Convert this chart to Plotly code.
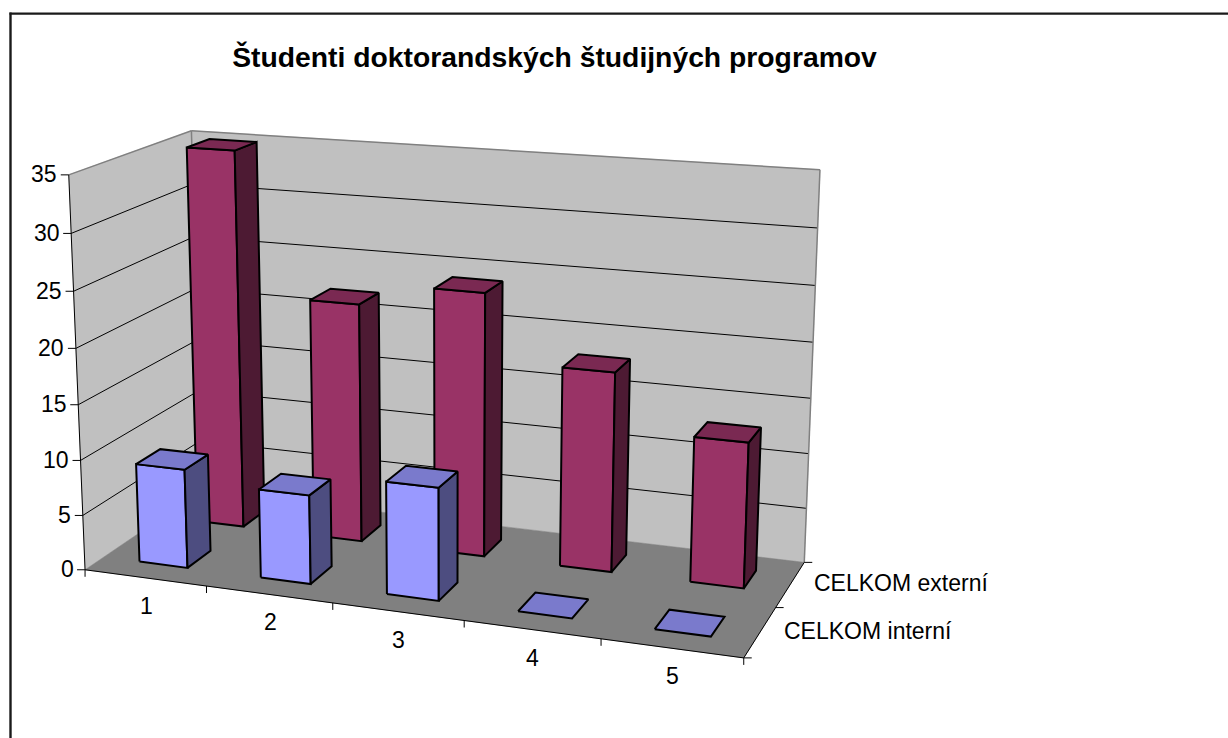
import numpy as np
import plotly.graph_objects as go

# ---------- data ----------
categories = ["1", "2", "3", "4", "5"]
series_names = ["CELKOM interní", "CELKOM externí"]
interni = [9, 8, 10, 0, 0]
externi = [35, 22, 24, 18, 13]
z_ticks = [0, 5, 10, 15, 20, 25, 30, 35]
title_text = "Študenti doktorandských študijných programov"

# ---------- oblique 3-D view: (category, series, value) -> screen position ----------
# Plotly's 3-D scene has a fixed field of view that cannot reach this long-lens view,
# so the view is solved from the box's landmarks and drawn on ordinary axes.
Z_MAX = 35
landmarks = np.array([
    [0, 0, 0, 85, 570], [0, 0, 35, 69, 173], [0, 2, 35, 191, 132], [5, 2, 35, 820, 170],
    [5, 2, 0, 804, 563], [5, 0, 0, 742, 657], [0, 2, 0, 201, 489], [5, 1, 0, 778, 607],
    [1, 0, 0, 207, 587], [2, 0, 0, 333, 603], [3, 0, 0, 463, 621],
    [0, 0, 5, 83, 516], [0, 0, 10, 81, 461]], float)

def solve_view(L):
    A = []
    for X, Y, Z, u, v in L:
        A.append([X, Y, Z, 1, 0, 0, 0, 0, -u*X, -u*Y, -u*Z, -u])
        A.append([0, 0, 0, 0, X, Y, Z, 1, -v*X, -v*Y, -v*Z, -v])
    return np.linalg.svd(np.array(A))[2][-1].reshape(3, 4)

VIEW = solve_view(landmarks)

def pr(x, y, z):
    h = VIEW @ np.array([x, y, z, 1.0])
    return h[0]/h[2], h[1]/h[2]

fig = go.Figure()

def poly(corners, fill, line=None, width=0):
    P = [pr(*c) for c in corners]
    xs = [p[0] for p in P] + [P[0][0]]
    ys = [p[1] for p in P] + [P[0][1]]
    fig.add_trace(go.Scatter(x=xs, y=ys, mode="lines", fill="toself", fillcolor=fill,
                             line=dict(color=line or fill, width=width or 0.5),
                             hoverinfo="skip"))

def seg(a, b, color, width, dpx=(0, 0)):
    pa, pb = pr(*a), pr(*b)
    fig.add_trace(go.Scatter(x=[pa[0], pb[0] + dpx[0]], y=[pa[1], pb[1] + dpx[1]], mode="lines",
                             line=dict(color=color, width=width), hoverinfo="skip"))

nx = len(categories)
# walls and floor
poly([(0, 0, 0), (0, 2, 0), (0, 2, Z_MAX), (0, 0, Z_MAX)], "#C0C0C0")
poly([(0, 2, 0), (nx, 2, 0), (nx, 2, Z_MAX), (0, 2, Z_MAX)], "#C0C0C0")
poly([(0, 0, 0), (nx, 0, 0), (nx, 2, 0), (0, 2, 0)], "#808080")
# gridlines
for t in z_ticks[1:-1]:
    seg((0, 0, t), (0, 2, t), "black", 1)
    seg((0, 2, t), (nx, 2, t), "black", 1)
# wall edges
seg((0, 0, Z_MAX), (0, 2, Z_MAX), "#808080", 1.5)
seg((0, 2, Z_MAX), (nx, 2, Z_MAX), "#808080", 1.5)
seg((nx, 2, Z_MAX), (nx, 2, 0), "#808080", 1.5)
seg((0, 2, Z_MAX), (0, 2, 0), "#808080", 1.5)
# axis lines and tick marks
seg((0, 0, Z_MAX), (0, 0, 0), "black", 1)
seg((0, 0, 0), (nx, 0, 0), "black", 1)
seg((nx, 0, 0), (nx, 2, 0), "black", 1)
for t in z_ticks:
    seg((0, 0, t), (0, 0, t), "black", 1, dpx=(-8, 0))
for i in range(nx + 1):
    seg((i, 0, 0), (i, 0, 0), "black", 1, dpx=(0, 7))
for j in range(3):
    seg((nx, j, 0), (nx, j, 0), "black", 1, dpx=(8, 0))

# bars
HALF = 0.2
def bar(cx, cy, val, front, side, top):
    a, b, c, d = cx - HALF, cx + HALF, cy - HALF, cy + HALF
    if val > 0:
        poly([(a, c, 0), (b, c, 0), (b, c, val), (a, c, val)], front, "black", 2)
        poly([(b, c, 0), (b, d, 0), (b, d, val), (b, c, val)], side, "black", 2)
    poly([(a, c, val), (b, c, val), (b, d, val), (a, d, val)], top, "black", 2)

for i, v in enumerate(externi):
    bar(i + .5, 1.5, v, "#993366", "#4D1A33", "#7A2952")
for i, v in enumerate(interni):
    bar(i + .5, .5, v, "#9999FF", "#4D4D80", "#7A7ACC")

# text
FONT = "Liberation Sans, Arial, sans-serif"
ann = []
for t in z_ticks:
    px, py = pr(0, 0, t)
    ann.append(dict(x=px - 9.5, y=py - 0.5, text=str(t), xanchor="right", yanchor="middle"))
for i, c in enumerate(categories):
    px, py = pr(i + .5, 0, 0)
    ann.append(dict(x=px + 1, y=py + 28, text=c, xanchor="center", yanchor="middle"))
for j, n in enumerate(series_names):
    px, py = pr(nx, j + .5, 0)
    ann.append(dict(x=px + 21.5, y=py - 1, text=n, xanchor="left", yanchor="middle"))
for a in ann:
    a.update(xref="x", yref="y", showarrow=False, font=dict(family=FONT, size=23, color="black"))

fig.update_layout(
    width=1228, height=738, margin=dict(l=0, r=0, t=0, b=0), showlegend=False,
    paper_bgcolor="white", plot_bgcolor="white", hovermode=False,
    title=dict(text="<b>%s</b>" % title_text, x=554.5/1228, y=1-57/738, xanchor="center", yanchor="middle",
               font=dict(family=FONT, size=28.3, color="black")),
    xaxis=dict(visible=False, range=[0, 1228], fixedrange=True),
    yaxis=dict(visible=False, range=[738, 0], fixedrange=True),
    annotations=ann,
    shapes=[
        dict(type="line", xref="x", yref="y", x0=9.5, x1=1228, y0=13.6, y1=13.6, line=dict(color="#1a1a1a", width=2.4)),
        dict(type="line", xref="x", yref="y", x0=10.5, x1=10.5, y0=12.5, y1=738, line=dict(color="#1a1a1a", width=2.4)),
    ])
fig.write_html("out.html", config=dict(displayModeBar=False), post_script="document.body.style.margin='0';")
